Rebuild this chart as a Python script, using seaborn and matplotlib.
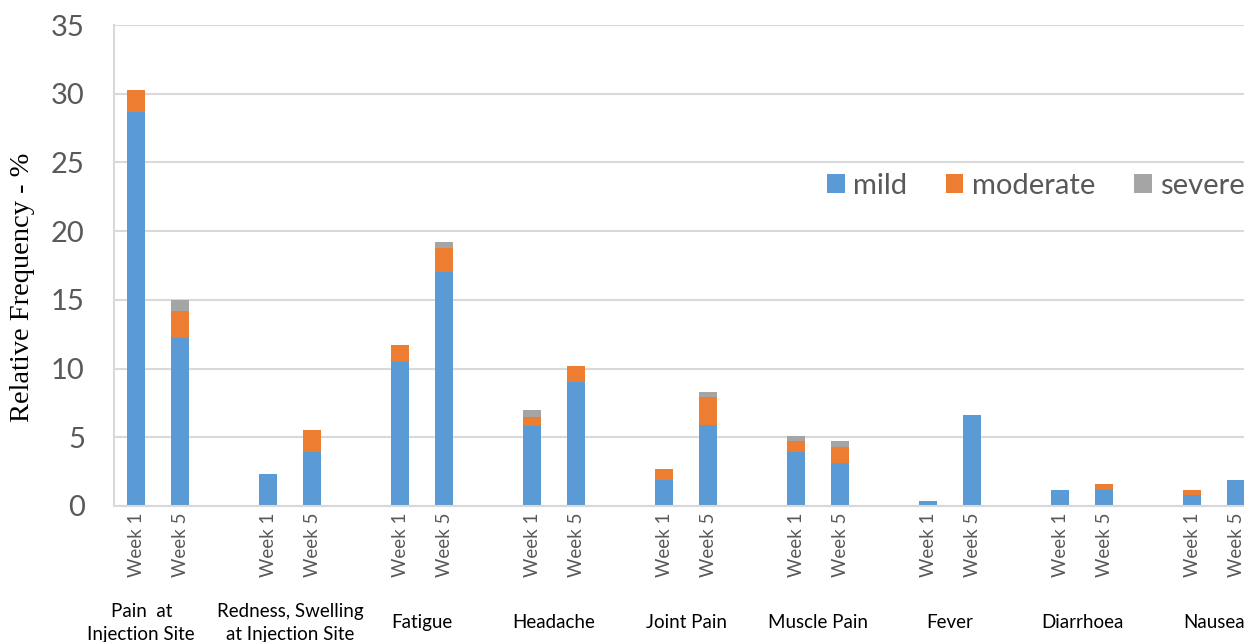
import matplotlib
matplotlib.use("Agg")
import matplotlib.pyplot as plt
import matplotlib.transforms as mtransforms
from matplotlib.patches import Patch
import numpy as np
import pandas as pd
import seaborn as sns

# Side-effect frequencies (%) by symptom, week and severity
symptoms = ["Pain  at\nInjection Site", "Redness, Swelling\nat Injection Site", "Fatigue",
            "Headache", "Joint Pain", "Muscle Pain", "Fever", "Diarrhoea", "Nausea"]
weeks = ["Week 1", "Week 5"]
mild_w1 = [28.7, 2.3, 10.5, 5.8, 1.9, 3.9, 0.4, 1.2, 0.8]
moderate_w1 = [1.6, 0.0, 1.2, 0.7, 0.8, 0.8, 0.0, 0.0, 0.4]
severe_w1 = [0.0, 0.0, 0.0, 0.5, 0.0, 0.4, 0.0, 0.0, 0.0]
mild_w5 = [12.2, 3.9, 17.0, 9.0, 5.9, 3.1, 6.6, 1.2, 1.9]
moderate_w5 = [2.0, 1.6, 1.8, 1.2, 2.0, 1.2, 0.0, 0.4, 0.0]
severe_w5 = [0.8, 0.0, 0.4, 0.0, 0.4, 0.4, 0.0, 0.0, 0.0]
severity_levels = ["mild", "moderate", "severe"]
colors = {"mild": "#5B9BD5", "moderate": "#ED7D31", "severe": "#A5A5A5"}

# Build the long table: one slot per week, plus an empty spacer slot between symptoms
rows = []
order = []
for g, name in enumerate(symptoms):
    for w, wk in enumerate(weeks):
        slot = f"{g}-{wk}"
        order.append(slot)
        mild = (mild_w1 if w == 0 else mild_w5)[g]
        mod = (moderate_w1 if w == 0 else moderate_w5)[g]
        sev = (severe_w1 if w == 0 else severe_w5)[g]
        rows.append({"slot": slot, "mild": mild, "moderate": mod, "severe": sev})
    if g < len(symptoms) - 1:
        order.append(f"{g}-gap")
df = pd.DataFrame(rows)
df["cum_mild"] = df["mild"]
df["cum_moderate"] = df["mild"] + df["moderate"]
df["cum_severe"] = df["cum_moderate"] + df["severe"]

sns.set_theme(style="white")
plt.rcParams["font.family"] = ["Lato", "DejaVu Sans"]

W, H = 1244, 642
fig = plt.figure(figsize=(W / 100, H / 100), dpi=100)
ax_left, ax_right, ax_top, ax_bottom = 114, 1258, 25, 506
ax = fig.add_axes([ax_left / W, 1 - ax_bottom / H, (ax_right - ax_left) / W, (ax_bottom - ax_top) / H])

# Stack by overdrawing cumulative totals, tallest layer first
for level in ["severe", "moderate", "mild"]:
    sns.barplot(data=df, x="slot", y=f"cum_{level}", order=order, color=colors[level],
                width=0.4, saturation=1, ax=ax, linewidth=0, errorbar=None)

ax.set_xlim(-0.5, len(order) - 0.5)
ax.set_ylim(0, 35)
ax.set_yticks(np.arange(0, 36, 5))
ax.yaxis.grid(True, color="#D9D9D9", linewidth=1.5)
ax.set_axisbelow(True)
for side in ["top", "right"]:
    ax.spines[side].set_visible(False)
for side in ["left", "bottom"]:
    ax.spines[side].set_color("#D9D9D9")
    ax.spines[side].set_linewidth(1.5)

ax.tick_params(axis="y", length=0, pad=21, labelsize=21, labelcolor="#595959")
tick_labels = [s.split("-")[1] if not s.endswith("gap") else "" for s in order]
ax.set_xticks(range(len(order)))
ax.set_xticklabels(tick_labels, rotation=90, fontsize=13.5, color="#595959")
ax.tick_params(axis="x", length=0, pad=5)
ax.set_xlabel("")
ax.set_ylabel("Relative Frequency - %", family=["Liberation Serif"], fontsize=20.5,
              color="#000000")
ax.yaxis.set_label_coords(-0.069, 0.455)

# Symptom names centred under each pair of weekly bars (the first one sits a bit left)
trans = mtransforms.blended_transform_factory(ax.transData, ax.transAxes)
for g, name in enumerate(symptoms):
    xc = order.index(f"{g}-Week 1") + 0.5
    if g == 0:
        xc -= 0.38
    ax.text(xc, -0.243, name, transform=trans, ha="center", va="center",
            fontsize=13.5, color="#000000", linespacing=1.4)

# Severity key: one entry per legend so each sits at its own column start
for level, x_px in zip(severity_levels, [827, 946, 1134]):
    leg = fig.legend(handles=[Patch(facecolor=colors[level], edgecolor="none", label=level)],
                     loc="center left", bbox_to_anchor=(x_px / W, 1 - 186 / H),
                     frameon=False, fontsize=21, handlelength=0.6, handleheight=0.6,
                     handletextpad=0.3, borderpad=0, borderaxespad=0)
    for t in leg.get_texts():
        t.set_color("#595959")

fig.savefig("out.png", dpi=100)
